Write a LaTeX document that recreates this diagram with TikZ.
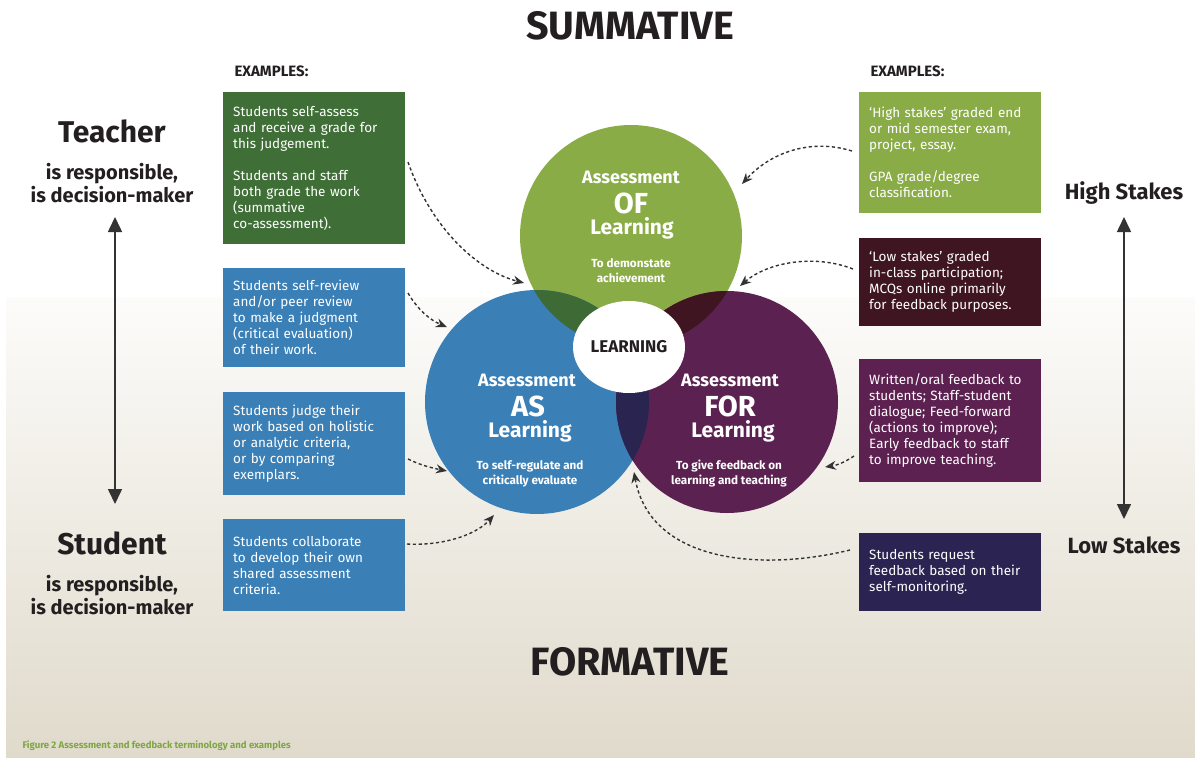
\documentclass[tikz,border=0pt]{standalone}
\usepackage{fontspec}
\setmainfont{Fira Sans}
\usetikzlibrary{arrows.meta,shapes.geometric}
\definecolor{ofgreen}{HTML}{8AAC46}
\definecolor{asblue}{HTML}{3A7FB6}
\definecolor{forpurple}{HTML}{5B2150}
\definecolor{ovgb}{HTML}{3D6A35}
\definecolor{ovgp}{HTML}{3E1521}
\definecolor{ovbp}{HTML}{2A2450}
\definecolor{bxdkgreen}{HTML}{3F6E37}
\definecolor{bxmaroon}{HTML}{3F1521}
\definecolor{bxnavy}{HTML}{2B2452}
\definecolor{bxpurple}{HTML}{5C2150}
\definecolor{txtdark}{HTML}{231F20}
\definecolor{captgreen}{HTML}{7FA645}
\definecolor{bgbottom}{HTML}{E0DACB}
\definecolor{arrowgray}{HTML}{333333}
\tikzset{
  exbox/.style={anchor=north west, text=white, align=left, text width=162pt,
    inner xsep=10pt, inner ysep=0pt, minimum width=180pt,
    font=\fontsize{13.5}{16}\selectfont},
  dasharrow/.style={draw=arrowgray, line width=1.4pt, dash pattern=on 3.2pt off 2.6pt,
    -{Stealth[length=11pt,width=9pt]}},
  stakearrow/.style={draw=arrowgray, line width=1.6pt,
    {Triangle[length=15pt,width=14pt]}-{Triangle[length=15pt,width=14pt]}},
  sidetitle/.style={text=txtdark, font=\bfseries\fontsize{30}{34}\selectfont},
  sidesub/.style={text=txtdark, align=center, font=\bfseries\fontsize{20}{23}\selectfont},
  stakes/.style={text=txtdark, font=\bfseries\fontsize{22}{25}\selectfont},
  circtxt/.style={text=white, align=center, font=\bfseries},
}
\begin{document}
\begin{tikzpicture}[x=1pt,y=-1pt]
\useasboundingbox (0,0) rectangle (1195,758);
% background
\fill[white] (0,0) rectangle (1195,758);
\shade[top color=white!70!bgbottom!30!white, bottom color=bgbottom] (6,297) rectangle (1195,758);

% titles
\node[text=txtdark, font=\bfseries\fontsize{39.5}{44}\selectfont] (summ) at (630,26) {SUMMATIVE};
\node[text=txtdark, font=\bfseries\fontsize{39.5}{44}\selectfont] (form) at (630,662) {FORMATIVE};
\node[text=txtdark, font=\bfseries\fontsize{15}{17}\selectfont, anchor=west] (exl) at (231,71) {EXAMPLES:};
\node[text=txtdark, font=\bfseries\fontsize{15}{17}\selectfont, anchor=west] (exr) at (867,71) {EXAMPLES:};

% left side
\node[sidetitle] (teacher) at (112,131) {Teacher};
\node[sidesub] (tsub) at (112,183) {is responsible,\\is decision-maker};
\node[sidetitle] (student) at (112,543) {Student};
\node[sidesub] (ssub) at (112,595) {is responsible,\\is decision-maker};
\coordinate (ltop) at (115,217);
\coordinate (lbot) at (115,504);
\draw[stakearrow] (ltop) -- (lbot);

% right side
\node[stakes] (high) at (1124,193) {High Stakes};
\node[stakes] (low) at (1124,545) {Low Stakes};
\coordinate (rtop) at (1124,217);
\coordinate (rbot) at (1124,519);
\draw[stakearrow] (rtop) -- (rbot);

% circles
\coordinate (G) at (631,236);
\coordinate (B) at (537,402);
\coordinate (P) at (727,402);
\fill[ofgreen] (G) circle[radius=111pt];
\fill[asblue] (B) circle[radius=112pt];
\fill[forpurple] (P) circle[radius=111pt];
\begin{scope}
  \clip (G) circle[radius=111pt];
  \fill[ovgb] (B) circle[radius=112pt];
  \fill[ovgp] (P) circle[radius=111pt];
\end{scope}
\begin{scope}
  \clip (B) circle[radius=112pt];
  \fill[ovbp] (P) circle[radius=111pt];
\end{scope}
\node[ellipse, fill=white, minimum width=112pt, minimum height=92pt, inner sep=0pt,
  text=txtdark, font=\bfseries\fontsize{17}{19}\selectfont] (learning) at (629,347) {LEARNING};

% OF text
\node[circtxt, font=\bfseries\fontsize{18}{20}\selectfont] (ofa) at (631,177) {Assessment};
\node[circtxt, font=\bfseries\fontsize{29}{32}\selectfont] (ofb) at (631,203) {OF};
\node[circtxt, font=\bfseries\fontsize{21}{24}\selectfont] (ofc) at (632,228) {Learning};
\node[circtxt, font=\bfseries\fontsize{11.7}{15}\selectfont] (ofd) at (631,271) {To demonstate\\achievement};
% AS text
\node[circtxt, font=\bfseries\fontsize{18}{20}\selectfont] (asa) at (527,380) {Assessment};
\node[circtxt, font=\bfseries\fontsize{29}{32}\selectfont] (asb) at (528,406) {AS};
\node[circtxt, font=\bfseries\fontsize{21}{24}\selectfont] (asc) at (530,431) {Learning};
\node[circtxt, font=\bfseries\fontsize{11.7}{15}\selectfont] (asd) at (530,474) {To self-regulate and\\critically evaluate};
% FOR text
\node[circtxt, font=\bfseries\fontsize{18}{20}\selectfont] (fora) at (730,380) {Assessment};
\node[circtxt, font=\bfseries\fontsize{29}{32}\selectfont] (forb) at (730,406) {FOR};
\node[circtxt, font=\bfseries\fontsize{21}{24}\selectfont] (forc) at (733,431) {Learning};
\node[circtxt, font=\bfseries\fontsize{11.7}{15}\selectfont] (ford) at (729,474) {To give feedback on\\learning and teaching};

% left boxes
\node[exbox, fill=bxdkgreen, minimum height=152pt] (l1) at (223,92)
  {Students self-assess\\and receive a grade for\\this judgement.\\[16pt]Students and staff\\both grade the work\\(summative\\co-assessment).};
\node[exbox, fill=asblue, minimum height=99pt] (l2) at (223,268)
  {Students self-review\\and/or peer review\\to make a judgment\\(critical evaluation)\\of their work.};
\node[exbox, fill=asblue, minimum height=103pt] (l3) at (223,392)
  {Students judge their\\work based on holistic\\or analytic criteria,\\or by comparing\\exemplars.};
\node[exbox, fill=asblue, minimum height=92pt] (l4) at (223,519)
  {Students collaborate\\to develop their own\\shared assessment\\criteria.};

% right boxes
\node[exbox, fill=ofgreen, minimum height=121pt] (r1) at (859,92)
  {`High stakes' graded end\\or mid semester exam,\\project, essay.\\[16pt]GPA grade/degree\\classification.};
\node[exbox, fill=bxmaroon, minimum height=88pt] (r2) at (859,238)
  {`Low stakes' graded\\in-class participation;\\MCQs online primarily\\for feedback purposes.};
\node[exbox, fill=bxpurple, minimum height=123pt] (r3) at (859,359)
  {Written/oral feedback to\\students; Staff-student\\dialogue; Feed-forward\\(actions to improve);\\Early feedback to staff\\to improve teaching.};
\node[exbox, fill=bxnavy, minimum height=78pt] (r4) at (859,533)
  {Students request\\feedback based on their\\self-monitoring.};

% arrow coordinates
\coordinate (s1) at (408,162); \coordinate (e1) at (524,283);
\coordinate (s2) at (408,293); \coordinate (e2) at (447,327);
\coordinate (s3) at (408,459); \coordinate (e3) at (447,471);
\coordinate (s4) at (407,544); \coordinate (e4) at (494,515);
\coordinate (s5) at (852,151); \coordinate (e5) at (742,184);
\coordinate (s6) at (853,269); \coordinate (e6) at (740,286);
\coordinate (s7) at (854,456); \coordinate (e7) at (825,467);
\coordinate (s8) at (850,550); \coordinate (e8) at (634,472);

\draw[dasharrow] (s1) .. controls (430,225) and (475,270) .. (e1);
\draw[dasharrow] (s2) .. controls (418,310) and (430,320) .. (e2);
\draw[dasharrow] (s3) .. controls (420,465) and (432,468) .. (e3);
\draw[dasharrow] (s4) .. controls (440,546) and (475,536) .. (e4);
\draw[dasharrow] (s5) .. controls (810,138) and (770,153) .. (e5);
\draw[dasharrow] (s6) .. controls (815,254) and (768,262) .. (e6);
\draw[dasharrow] (s7) .. controls (845,462) and (838,465) .. (e7);
\draw[dasharrow] (s8) .. controls (760,572) and (650,562) .. (e8);

% caption
\node[anchor=west, text=captgreen, font=\bfseries\fontsize{9.6}{11}\selectfont] (cap) at (19,746)
  {Figure 2 Assessment and feedback terminology and examples};
\end{tikzpicture}
\end{document}
